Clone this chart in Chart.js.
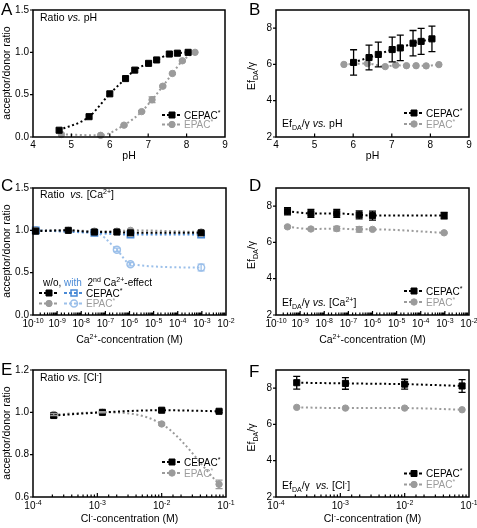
<!DOCTYPE html>
<html>
<head>
<meta charset="utf-8">
<title>Ratio and Ef/gamma vs pH, Ca2+, Cl-</title>
<script src="https://cdn.jsdelivr.net/npm/chart.js@4.4.1/dist/chart.umd.min.js"></script>
<style>
body { margin: 0; background: #fff; }
#fig { position: relative; width: 477px; height: 528px; overflow: hidden; background: #fff; }
#fig canvas { position: absolute; }
</style>
</head>
<body>
<div id="fig">
<canvas id="pA"></canvas>
<canvas id="pB"></canvas>
<canvas id="pC"></canvas>
<canvas id="pD"></canvas>
<canvas id="pE"></canvas>
<canvas id="pF"></canvas>
</div>
<script>
// ---- values ----

// A / B : pH
const phCepac = [4.68, 5.46, 6.0, 6.41, 6.65, 7.01, 7.22, 7.55, 7.76, 8.04];
const ratioPhCepac = [0.08, 0.24, 0.51, 0.69, 0.79, 0.87, 0.91, 0.98, 0.99, 1.0];
const phEpac = [4.74, 5.76, 6.37, 6.83, 7.1, 7.38, 7.63, 7.89, 8.22];
const ratioPhEpac = [0.03, 0.02, 0.14, 0.3, 0.44, 0.6, 0.75, 0.9, 1.0];
const ratioPhEpacErr = [0, 0, 0.01, 0.01, 0.035, 0.01, 0.01, 0.01, 0];
const phCepacEf = [6.01, 6.41, 6.65, 7.01, 7.22, 7.55, 7.76, 8.04];
const efPhCepac = [6.11, 6.38, 6.55, 6.82, 6.91, 7.17, 7.27, 7.41];
const efPhCepacErr = [0.7, 0.68, 0.68, 0.68, 0.7, 0.7, 0.72, 0.7];
const phEpacEf = [5.76, 6.37, 6.83, 7.1, 7.38, 7.63, 7.89, 8.22];
const efPhEpac = [6.0, 6.05, 5.88, 5.96, 5.93, 5.93, 5.92, 5.99];

// C / D : free Ca2+ (M)
const caC = [1.3e-10, 2.9e-9, 3.5e-8, 3.0e-7, 1.1e-6, 9.3e-4];
const ratioCaCepac = [0.99, 1.0, 0.98, 0.98, 0.97, 0.97];
const ratioCaEpac = [1.0, 1.0, 0.99, 0.99, 1.0, 0.98];
const caCepac2 = [1.3e-10, 3.5e-8, 1.1e-6, 9.3e-4];
const ratioCaCepac2 = [1.0, 0.97, 0.95, 0.95];
const caEpac2 = [1.3e-10, 3.5e-8, 3.0e-7, 1.1e-6, 9.3e-4];
const ratioCaEpac2 = [1.0, 0.98, 0.77, 0.6, 0.56];
const ratioCaEpac2Err = [0, 0, 0.02, 0.02, 0.04];
const caD = [3.0e-10, 2.8e-9, 3.3e-8, 2.8e-7, 1.0e-6, 9.3e-4];
const efCaCepac = [7.72, 7.6, 7.6, 7.52, 7.48, 7.48];
const efCaCepacErr = [0.2, 0.22, 0.22, 0.22, 0.25, 0.18];
const efCaEpac = [6.86, 6.74, 6.76, 6.72, 6.72, 6.53];
const efCaEpacErr = [0.05, 0.04, 0.12, 0.15, 0.05, 0.04];

// E / F : Cl- (M)
const cl = [2.1e-4, 1.2e-3, 1.0e-2, 7.8e-2];
const ratioClCepac = [0.985, 1.0, 1.01, 1.005];
const ratioClCepacErr = [0.01, 0.005, 0.008, 0.005];
const ratioClEpac = [0.99, 1.0, 0.945, 0.66];
const ratioClEpacErr = [0.005, 0.003, 0.005, 0.02];
const efClCepac = [8.3, 8.26, 8.22, 8.12];
const efClCepacErr = [0.35, 0.32, 0.27, 0.35];
const efClEpac = [6.94, 6.9, 6.9, 6.81];

// ticks
const phTicks = [4, 5, 6, 7, 8, 9];
const ratioTicks = [0, 0.5, 1.0, 1.5];
const ratioClTicks = [0.6, 0.8, 1.0, 1.2];
const efTicks = [2, 4, 6, 8];
const efMax = 9;
const caDecades = [-10, -9, -8, -7, -6, -5, -4, -3, -2];
const clDecades = [-4, -3, -2, -1];

// ---- styles ----
const FONT = "'Liberation Sans', Arial, Helvetica, sans-serif";
Chart.defaults.font.family = FONT;
Chart.defaults.font.size = 10;
Chart.defaults.color = '#000';

const GRAY = '#9b9b9b';
const BLUE = '#4a8ad6';
const LTBLUE = '#9cc0ea';

const stBlack = { line: '#000', shape: 'rect', r: 4.3, fill: '#000', edge: '#000', order: 0 };
const stGray = { line: GRAY, shape: 'circle', r: 3.2, fill: GRAY, edge: GRAY, order: 1 };
const stBlue = { line: BLUE, shape: 'rect', r: 4.5, fill: 'rgba(0,0,0,0)', edge: BLUE, bw: 1.5, order: 2 };
const stLtBlue = { line: LTBLUE, shape: 'circle', r: 3.5, fill: 'rgba(0,0,0,0)', edge: LTBLUE, bw: 1.5, order: 3 };

function series(xs, ys, st, err) {
  return {
    data: xs.map((x, i) => ({ x: x, y: ys[i] })),
    err: err,
    errColor: st.edge,
    borderColor: st.line,
    borderWidth: 2,
    borderDash: [2, 2.6],
    cubicInterpolationMode: 'monotone',
    pointStyle: st.shape,
    pointRadius: st.r,
    pointBackgroundColor: st.fill,
    pointBorderColor: st.edge,
    pointBorderWidth: st.bw || 1,
    order: st.order,
    clip: false,
    fill: false
  };
}

// text with sub/superscripts: parts = [[text, kind, color]]
function rich(ctx, x, y, parts, size, align) {
  const fontOf = k => (k === 'i' ? 'italic ' : '') +
    ((k === 'sup' || k === 'sub') ? Math.round(size * 0.68) : size) + 'px ' + FONT;
  let w = 0;
  parts.forEach(p => { ctx.font = fontOf(p[1]); w += ctx.measureText(p[0]).width; });
  let cx = align === 'center' ? x - w / 2 : (align === 'right' ? x - w : x);
  ctx.textAlign = 'left';
  ctx.textBaseline = 'alphabetic';
  parts.forEach(p => {
    ctx.font = fontOf(p[1]);
    ctx.fillStyle = p[2] || '#000';
    const dy = p[1] === 'sup' ? -size * 0.4 : (p[1] === 'sub' ? size * 0.28 : 0);
    ctx.fillText(p[0], cx, y + dy);
    cx += ctx.measureText(p[0]).width;
  });
}

function legendMark(ctx, m) {
  ctx.save();
  ctx.strokeStyle = m.st.line;
  ctx.lineWidth = 2;
  ctx.setLineDash([3, 2]);
  ctx.beginPath();
  ctx.moveTo(m.x - 10, m.y); ctx.lineTo(m.x + 10, m.y);
  ctx.stroke();
  ctx.setLineDash([]);
  ctx.fillStyle = m.st.fill;
  ctx.strokeStyle = m.st.edge;
  ctx.lineWidth = m.st.bw || 1;
  ctx.beginPath();
  if (m.st.shape === 'rect') ctx.rect(m.x - 3, m.y - 3, 6, 6);
  else ctx.arc(m.x, m.y, m.st.r, 0, Math.PI * 2);
  ctx.fill(); ctx.stroke();
  ctx.restore();
}

function deco(p) {
  return {
    id: 'deco',
    afterDatasetsDraw(chart) {
      const ctx = chart.ctx, ys = chart.scales.y;
      chart.data.datasets.forEach((ds, i) => {
        if (!ds.err) return;
        const meta = chart.getDatasetMeta(i);
        ctx.save();
        ctx.strokeStyle = ds.errColor;
        ctx.lineWidth = 1.3;
        meta.data.forEach((el, j) => {
          const e = ds.err[j];
          if (!e) return;
          const v = ds.data[j].y;
          const y1 = ys.getPixelForValue(v + e), y2 = ys.getPixelForValue(v - e);
          ctx.beginPath();
          ctx.moveTo(el.x, y1); ctx.lineTo(el.x, y2);
          ctx.moveTo(el.x - 3.5, y1); ctx.lineTo(el.x + 3.5, y1);
          ctx.moveTo(el.x - 3.5, y2); ctx.lineTo(el.x + 3.5, y2);
          ctx.stroke();
        });
        ctx.restore();
      });
    },
    afterDraw(chart) {
      const ctx = chart.ctx, ca = chart.chartArea;
      const xs = chart.scales.x, ys = chart.scales.y;
      ctx.save();
      ctx.strokeStyle = '#000';
      ctx.lineWidth = 1.5;
      ctx.strokeRect(ca.left, ca.top, ca.right - ca.left, ca.bottom - ca.top);
      ctx.lineWidth = 1.2;
      ctx.beginPath();
      ys.ticks.forEach(t => {
        const py = ys.getPixelForValue(t.value);
        ctx.moveTo(ca.left - 3, py); ctx.lineTo(ca.left, py);
      });
      xs.ticks.forEach(t => {
        const px = xs.getPixelForValue(t.value);
        if (px < ca.left + 1 || px > ca.right - 1) return;
        let len = 3.5;
        if (p.xDec) {
          const lg = Math.log10(t.value);
          len = Math.abs(lg - Math.round(lg)) < 1e-6 ? 4 : 2.5;
        }
        ctx.moveTo(px, ca.bottom); ctx.lineTo(px, ca.bottom - len);
      });
      ctx.stroke();
      if (p.xDec) {
        p.xDec.forEach(k => {
          const px = xs.getPixelForValue(Math.pow(10, k));
          rich(ctx, px, ca.bottom + 12, [['10', ''], [String(k), 'sup']], 10, 'center');
        });
      }
      ctx.translate(-p.box[0], -p.box[1]);
      p.marks.forEach(m => legendMark(ctx, m));
      p.texts.forEach(t => {
        if (t.rot) {
          ctx.save();
          ctx.translate(t.x, t.y);
          ctx.rotate(-Math.PI / 2);
          rich(ctx, 0, t.size * 0.35, t.parts, t.size, 'center');
          ctx.restore();
        } else {
          rich(ctx, t.x, t.y, t.parts, t.size, t.align || 'left');
        }
      });
      ctx.restore();
    }
  };
}

function makePanel(p) {
  const cv = document.getElementById(p.id);
  const [ox, oy, cw, chh] = p.box;
  const a = p.area;
  cv.width = cw; cv.height = chh;
  cv.style.left = ox + 'px'; cv.style.top = oy + 'px';
  let xScale;
  if (p.xDec) {
    xScale = {
      type: 'logarithmic',
      min: Math.pow(10, p.xDec[0]),
      max: Math.pow(10, p.xDec[p.xDec.length - 1]),
      ticks: { display: false, autoSkip: false }
    };
  } else {
    xScale = {
      type: 'linear',
      min: p.xTicks[0], max: p.xTicks[p.xTicks.length - 1],
      afterBuildTicks: s => { s.ticks = p.xTicks.map(v => ({ value: v })); },
      ticks: { padding: 2, autoSkip: false, maxRotation: 0, callback: v => String(v) }
    };
  }
  xScale.grid = { display: false, drawTicks: false };
  xScale.border = { display: false };
  xScale.afterFit = s => { s.height = oy + chh - a.b; };
  const yScale = {
    type: 'linear',
    min: p.yMin, max: p.yMax,
    afterBuildTicks: s => { s.ticks = p.yTicks.map(v => ({ value: v })); },
    ticks: { padding: 4, autoSkip: false, callback: p.yFmt },
    grid: { display: false, drawTicks: false },
    border: { display: false },
    afterFit: s => { s.width = a.l - ox; }
  };
  new Chart(cv, {
    type: 'line',
    data: { datasets: p.datasets },
    options: {
      responsive: false,
      animation: false,
      devicePixelRatio: 1,
      layout: { autoPadding: false, padding: { left: 0, bottom: 0, top: a.t - oy, right: ox + cw - a.r } },
      plugins: { legend: { display: false }, tooltip: { enabled: false } },
      scales: { x: xScale, y: yScale }
    },
    plugins: [deco(p)]
  });
}

const EF = [['Ef', ''], ['DA', 'sub'], ['/\u03b3', '']];
const fmt1 = v => Number(v).toFixed(1);
const fmt0 = v => String(v);
const lgC = [['CEPAC', ''], ['*', 'sup']];
const lgE = [['EPAC', '', GRAY], ['*', 'sup', GRAY]];
const T = 10.5;

// A
makePanel({
  id: 'pA', box: [0, 0, 238, 178], area: { l: 33, t: 9, r: 225, b: 137 },
  xTicks: phTicks, yMin: 0, yMax: 1.5, yTicks: ratioTicks, yFmt: fmt1,
  datasets: [
    series(phCepac, ratioPhCepac, stBlack),
    series(phEpac, ratioPhEpac, stGray, ratioPhEpacErr)
  ],
  marks: [{ x: 172, y: 115, st: stBlack }, { x: 172, y: 124.5, st: stGray }],
  texts: [
    { parts: [['A', '']], x: 1, y: 15, size: 17 },
    { parts: [['Ratio ', ''], ['vs.', 'i'], [' pH', '']], x: 40, y: 21, size: T },
    { parts: [['acceptor/donor ratio', '']], x: 6, y: 73, size: T, rot: true },
    { parts: [['pH', '']], x: 129, y: 159, size: T, align: 'center' },
    { parts: lgC, x: 184, y: 118.5, size: 10 },
    { parts: lgE, x: 184, y: 128, size: 10 }
  ]
});

// B
makePanel({
  id: 'pB', box: [238, 0, 239, 178], area: { l: 276, t: 8, r: 469, b: 137 },
  xTicks: phTicks, yMin: 2, yMax: efMax, yTicks: efTicks, yFmt: fmt0,
  datasets: [
    series(phCepacEf, efPhCepac, stBlack, efPhCepacErr),
    series(phEpacEf, efPhEpac, stGray)
  ],
  marks: [{ x: 414, y: 113, st: stBlack }, { x: 414, y: 124, st: stGray }],
  texts: [
    { parts: [['B', '']], x: 249, y: 15, size: 17 },
    { parts: EF.concat([[' ', ''], ['vs.', 'i'], [' pH', '']]), x: 282, y: 127, size: T },
    { parts: EF, x: 251, y: 76, size: T, rot: true },
    { parts: [['pH', '']], x: 372.5, y: 159, size: T, align: 'center' },
    { parts: lgC, x: 426, y: 116.5, size: 10 },
    { parts: lgE, x: 426, y: 127.5, size: 10 }
  ]
});

// C
makePanel({
  id: 'pC', box: [0, 178, 238, 182], area: { l: 33, t: 187, r: 226, b: 315 },
  xDec: caDecades, yMin: 0, yMax: 1.5, yTicks: ratioTicks, yFmt: fmt1,
  datasets: [
    series(caC, ratioCaCepac, stBlack),
    series(caC, ratioCaEpac, stGray),
    series(caCepac2, ratioCaCepac2, stBlue),
    series(caEpac2, ratioCaEpac2, stLtBlue, ratioCaEpac2Err)
  ],
  marks: [
    { x: 49, y: 293, st: stBlack }, { x: 74, y: 293, st: stBlue },
    { x: 49, y: 303.5, st: stGray }, { x: 74, y: 303.5, st: stLtBlue }
  ],
  texts: [
    { parts: [['C', '']], x: 1, y: 191, size: 17 },
    { parts: [['Ratio  ', ''], ['vs.', 'i'], [' [Ca', ''], ['2+', 'sup'], [']', '']], x: 40, y: 198, size: T },
    { parts: [['acceptor/donor ratio', '']], x: 6, y: 251, size: T, rot: true },
    { parts: [['Ca', ''], ['2+', 'sup'], ['-concentration (M)', '']], x: 129.5, y: 343, size: T, align: 'center' },
    { parts: [['w/o, ', ''], ['with', '', BLUE], ['  2', ''], ['nd', 'sup'], [' Ca', ''], ['2+', 'sup'], ['-effect', '']], x: 43, y: 285.5, size: 10 },
    { parts: lgC, x: 86, y: 296.5, size: 10 },
    { parts: lgE, x: 86, y: 307, size: 10 }
  ]
});

// D
makePanel({
  id: 'pD', box: [238, 178, 239, 182], area: { l: 276, t: 187, r: 469, b: 315 },
  xDec: caDecades, yMin: 2, yMax: efMax, yTicks: efTicks, yFmt: fmt0,
  datasets: [
    series(caD, efCaCepac, stBlack, efCaCepacErr),
    series(caD, efCaEpac, stGray, efCaEpacErr)
  ],
  marks: [{ x: 414, y: 291, st: stBlack }, { x: 414, y: 302, st: stGray }],
  texts: [
    { parts: [['D', '']], x: 249, y: 191, size: 17 },
    { parts: EF.concat([[' ', ''], ['vs.', 'i'], [' [Ca', ''], ['2+', 'sup'], [']', '']]), x: 282, y: 306, size: T },
    { parts: EF, x: 251, y: 255, size: T, rot: true },
    { parts: [['Ca', ''], ['2+', 'sup'], ['-concentration (M)', '']], x: 372.5, y: 343, size: T, align: 'center' },
    { parts: lgC, x: 426, y: 294.5, size: 10 },
    { parts: lgE, x: 426, y: 305.5, size: 10 }
  ]
});

// E
makePanel({
  id: 'pE', box: [0, 360, 238, 168], area: { l: 33, t: 369, r: 226, b: 497 },
  xDec: clDecades, yMin: 0.6, yMax: 1.2, yTicks: ratioClTicks, yFmt: fmt1,
  datasets: [
    series(cl, ratioClCepac, stBlack, ratioClCepacErr),
    series(cl, ratioClEpac, stGray, ratioClEpacErr)
  ],
  marks: [{ x: 172, y: 462, st: stBlack }, { x: 172, y: 473, st: stGray }],
  texts: [
    { parts: [['E', '']], x: 1, y: 375, size: 17 },
    { parts: [['Ratio ', ''], ['vs.', 'i'], [' [Cl', ''], ['-', 'sup'], [']', '']], x: 40, y: 381, size: T },
    { parts: [['acceptor/donor ratio', '']], x: 6, y: 433, size: T, rot: true },
    { parts: [['Cl', ''], ['-', 'sup'], ['-concentration (M)', '']], x: 129.5, y: 522, size: T, align: 'center' },
    { parts: lgC, x: 184, y: 465.5, size: 10 },
    { parts: lgE, x: 184, y: 476.5, size: 10 }
  ]
});

// F
makePanel({
  id: 'pF', box: [238, 360, 239, 168], area: { l: 276, t: 370, r: 469, b: 497 },
  xDec: clDecades, yMin: 2, yMax: efMax, yTicks: efTicks, yFmt: fmt0,
  datasets: [
    series(cl, efClCepac, stBlack, efClCepacErr),
    series(cl, efClEpac, stGray)
  ],
  marks: [{ x: 414, y: 473.5, st: stBlack }, { x: 414, y: 484.5, st: stGray }],
  texts: [
    { parts: [['F', '']], x: 249, y: 377, size: 17 },
    { parts: EF.concat([['  ', ''], ['vs.', 'i'], [' [Cl', ''], ['-', 'sup'], [']', '']]), x: 282, y: 489, size: T },
    { parts: EF, x: 251, y: 437.5, size: T, rot: true },
    { parts: [['Cl', ''], ['-', 'sup'], ['-concentration (M)', '']], x: 372.5, y: 522, size: T, align: 'center' },
    { parts: lgC, x: 426, y: 477, size: 10 },
    { parts: lgE, x: 426, y: 488, size: 10 }
  ]
});
</script>
</body>
</html>
